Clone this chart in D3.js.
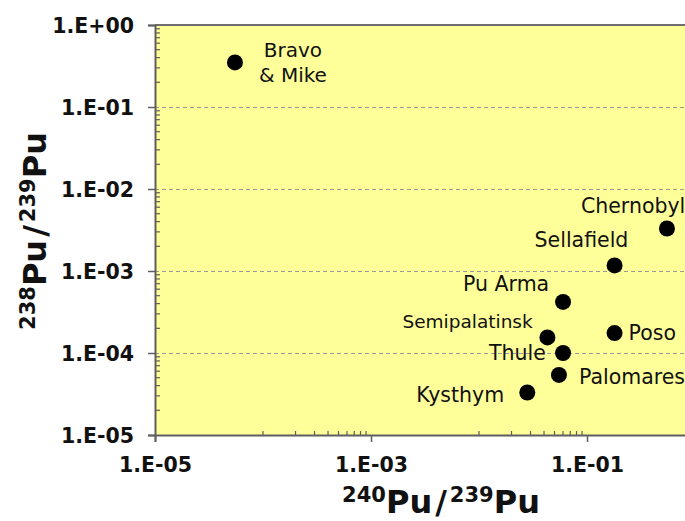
<!DOCTYPE html>
<html>
<head>
<meta charset="utf-8">
<script src="https://cdn.jsdelivr.net/npm/d3@7"></script>
<style>
  html, body { margin: 0; padding: 0; background: #ffffff; }
  svg { display: block; }
</style>
</head>
<body>
<div id="chart"></div>
<script>
// Plutonium isotope ratios by source
const sites = ["Bravo & Mike", "Chernobyl", "Sellafield", "Pu Arma", "Semipalatinsk", "Poso", "Thule", "Palomares", "Kysthym"];
const pu240to239 = [5.5e-5, 0.55, 0.18, 0.06, 0.043, 0.18, 0.06, 0.055, 0.028];
const pu238to239 = [0.35, 3.3e-3, 1.17e-3, 4.2e-4, 1.55e-4, 1.75e-4, 1.0e-4, 5.4e-5, 3.3e-5];

// Axis tick values and their labels
const xTicks = [1e-5, 1e-3, 1e-1];
const xTickLabels = ["1.E-05", "1.E-03", "1.E-01"];
const yTicks = [1, 1e-1, 1e-2, 1e-3, 1e-4, 1e-5];
const yTickLabels = ["1.E+00", "1.E-01", "1.E-02", "1.E-03", "1.E-04", "1.E-05"];

// Label placement relative to each marker (pixels)
const labelPlacement = [
  { dx: 58, dy: -5, anchor: "middle", size: 20, lines: ["Bravo", "& Mike"] },
  { dx: -86, dy: -15, anchor: "start", size: 20.5 },
  { dx: -80, dy: -18, anchor: "start", size: 20.5 },
  { dx: -100, dy: -11, anchor: "start", size: 20.5 },
  { dx: -145, dy: -9, anchor: "start", size: 18.5 },
  { dx: 14, dy: 7, anchor: "start", size: 20.5 },
  { dx: -74, dy: 7, anchor: "start", size: 20.5 },
  { dx: 20, dy: 9, anchor: "start", size: 20.5 },
  { dx: -111, dy: 10, anchor: "start", size: 20.5 }
];

const W = 685, H = 521;
const plot = { left: 155, top: 25, right: 695, bottom: 435 };

const svg = d3.select("#chart").append("svg")
  .attr("width", W).attr("height", H)
  .style("font-family", "'DejaVu Sans', Verdana, sans-serif");

const x = d3.scaleLog().domain([1e-5, 1]).range([plot.left, plot.right]);
const y = d3.scaleLog().domain([1e-5, 1]).range([plot.bottom, plot.top]);

const axisColor = "#5f5f5f";

// Plot area
svg.append("rect")
  .attr("x", plot.left).attr("y", plot.top)
  .attr("width", plot.right - plot.left).attr("height", plot.bottom - plot.top)
  .attr("fill", "#ffff99");

// Dashed horizontal gridlines
svg.append("g").selectAll("line")
  .data(yTicks.filter(v => v < 1 && v > 1e-5))
  .join("line")
  .attr("x1", plot.left).attr("x2", plot.right)
  .attr("y1", d => Math.round(y(d)) + 0.5).attr("y2", d => Math.round(y(d)) + 0.5)
  .attr("stroke", "#9a9a9a").attr("stroke-width", 1)
  .attr("stroke-dasharray", "4,3");

// Top border of the plot area
svg.append("line")
  .attr("x1", plot.left).attr("x2", plot.right)
  .attr("y1", plot.top).attr("y2", plot.top)
  .attr("stroke", "#6e6e6e").attr("stroke-width", 2);

// Y minor ticks (inside), 2..9 per decade
const yMinor = [];
for (let e = -5; e < 0; e++) for (let k = 2; k <= 9; k++) yMinor.push(k * Math.pow(10, e));
svg.append("g").selectAll("line").data(yMinor).join("line")
  .attr("x1", plot.left).attr("x2", plot.left + 5)
  .attr("y1", d => y(d)).attr("y2", d => y(d))
  .attr("stroke", axisColor).attr("stroke-width", 1.2);

// X minor ticks (inside), k × 1e-4 and k × 1e-2
const xMinor = [];
[1e-4, 1e-2].forEach(b => { for (let k = 1; k <= 9; k++) xMinor.push(k * b); });
svg.append("g").selectAll("line").data(xMinor).join("line")
  .attr("x1", d => x(d)).attr("x2", d => x(d))
  .attr("y1", plot.bottom).attr("y2", plot.bottom - 4)
  .attr("stroke", axisColor).attr("stroke-width", 1.2);

// Y axis
const yAxis = d3.axisLeft(y)
  .tickValues(yTicks)
  .tickFormat((d, i) => yTickLabels[i])
  .tickSize(7).tickPadding(14);
const gy = svg.append("g").attr("transform", `translate(${plot.left},0)`).call(yAxis);
gy.select(".domain").attr("stroke", axisColor).attr("stroke-width", 2);
gy.selectAll(".tick line").attr("stroke", axisColor).attr("stroke-width", 1.5);
gy.selectAll(".tick text")
  .attr("font-family", "'DejaVu Sans', Verdana, sans-serif")
  .attr("font-size", 20.5).attr("font-weight", "bold").attr("fill", "#111")
  .attr("dy", "0.36em");

// X axis
const xAxis = d3.axisBottom(x)
  .tickValues(xTicks)
  .tickFormat((d, i) => xTickLabels[i])
  .tickSize(7).tickPadding(0);
const gx = svg.append("g").attr("transform", `translate(0,${plot.bottom})`).call(xAxis);
gx.select(".domain").attr("stroke", axisColor).attr("stroke-width", 2);
gx.selectAll(".tick line").attr("stroke", axisColor).attr("stroke-width", 1.5);
gx.selectAll(".tick text")
  .attr("font-family", "'DejaVu Sans', Verdana, sans-serif")
  .attr("font-size", 20.5).attr("font-weight", "bold").attr("fill", "#111")
  .attr("y", 37).attr("dy", 0);

// Markers
const pts = sites.map((s, i) => ({ name: s, xv: pu240to239[i], yv: pu238to239[i], lab: labelPlacement[i] }));
svg.append("g").selectAll("circle").data(pts).join("circle")
  .attr("cx", d => x(d.xv)).attr("cy", d => y(d.yv))
  .attr("r", 8).attr("fill", "#000");

// Marker labels
const labels = svg.append("g").selectAll("text").data(pts).join("text")
  .attr("x", d => x(d.xv) + d.lab.dx)
  .attr("y", d => y(d.yv) + d.lab.dy)
  .attr("text-anchor", d => d.lab.anchor)
  .attr("font-size", d => d.lab.size)
  .attr("fill", "#111");
labels.each(function (d) {
  const t = d3.select(this);
  if (d.lab.lines) {
    d.lab.lines.forEach((ln, j) => {
      t.append("tspan").attr("x", x(d.xv) + d.lab.dx).attr("dy", j === 0 ? 0 : 25).text(ln);
    });
  } else {
    t.text(d.name);
  }
});

// Axis titles with superscript mass numbers
function isoTitle(sel, a, b) {
  sel.append("tspan").attr("font-size", 21).attr("dy", -11).text(a);
  sel.append("tspan").attr("font-size", 32).attr("dy", 11).text("Pu");
  sel.append("tspan").attr("font-size", 32).attr("dx", 3).text("/");
  sel.append("tspan").attr("font-size", 21).attr("dx", 3).attr("dy", -11).text(b);
  sel.append("tspan").attr("font-size", 32).attr("dy", 11).text("Pu");
}

const xt = svg.append("text")
  .attr("x", 441).attr("y", 513)
  .attr("text-anchor", "middle").attr("font-weight", "bold").attr("fill", "#111");
isoTitle(xt, "240", "239");

const yt = svg.append("text")
  .attr("transform", "translate(46,231) rotate(-90)")
  .attr("text-anchor", "middle").attr("font-weight", "bold").attr("fill", "#111");
isoTitle(yt, "238", "239");
</script>
</body>
</html>
